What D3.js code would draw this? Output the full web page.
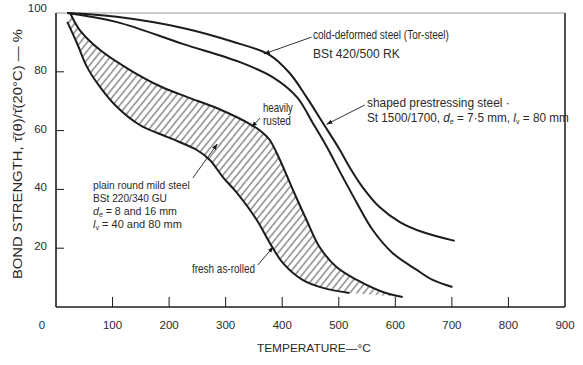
<!DOCTYPE html>
<html><head><meta charset="utf-8">
<script src="https://cdn.jsdelivr.net/npm/d3@7"></script>
<style>
body{margin:0;background:#fff;}
svg{display:block;}
text{font-family:"Liberation Sans",Arial,sans-serif;fill:#2a2a2a;}
</style></head>
<body>
<svg id="chart" width="583" height="365"></svg>
<script>
// ---- data (temperature °C, bond strength %) ----
const xTicks = [100,200,300,400,500,600,700,800,900];
const yTicks = [20,40,60,80,100];
const torSteel = [[20,100],[107,98.7],[224,94.9],[313,90.2],[378,85.7],[413,79.6],[443,71.4],[472,62.6],[502,53.4],[519,47.6],[542,40.8],[572,34.0],[608,28.9],[648,25.5],[705,22.5]];
const prestress = [[20,100],[108,96.9],[224,89.5],[325,83.3],[383,78.2],[426,71.4],[454,62.6],[479,54.4],[507,44.2],[532,35.4],[560,26.2],[595,18.4],[638,12.6],[666,9.2],[701,6.8]];
const rusted = [[25,100],[42,94.2],[78,87.4],[131,80.6],[185,75.0],[232,71.4],[285,67.6],[346,61.9],[366,59.2],[378,56.8],[396,50.0],[419,39.8],[443,29.6],[466,20.4],[496,13.6],[532,9.2],[578,5.1],[613,3.4]];
const fresh = [[20,97],[37,89.8],[55,81.6],[78,74.8],[108,68.0],[148,61.9],[201,57.5],[249,53.4],[272,50.0],[295,44.2],[320,38.8],[355,29.6],[378,21.8],[401,15.0],[436,9.2],[472,6.5],[519,4.8]];

const svg = d3.select("#chart");
const x = d3.scaleLinear().domain([0,900]).range([56,565]);
const y = d3.scaleLinear().domain([0,100]).range([307,13]);
const ink = "#1c1c1c";

// hatch pattern
const defs = svg.append("defs");
const pat = defs.append("pattern").attr("id","hatch").attr("width",5.4).attr("height",6)
  .attr("patternUnits","userSpaceOnUse").attr("patternTransform","rotate(39)");
pat.append("line").attr("x1",2.7).attr("x2",2.7).attr("y1",0).attr("y2",6)
  .attr("stroke","#333").attr("stroke-width",0.9);
defs.append("marker").attr("id","arr").attr("viewBox","0 0 10 10").attr("refX",9).attr("refY",5)
  .attr("markerWidth",7).attr("markerHeight",7).attr("orient","auto")
  .append("path").attr("d","M0,1.5 L10,5 L0,8.5 Z").attr("fill",ink);

// frame
svg.append("line").attr("x1",x(0)).attr("x2",x(900)).attr("y1",y(100)).attr("y2",y(100)).attr("stroke","#9a9a9a").attr("stroke-width",1.2);
svg.append("line").attr("x1",x(900)).attr("x2",x(900)).attr("y1",y(100)).attr("y2",y(0)).attr("stroke",ink).attr("stroke-width",1.5);
svg.append("line").attr("x1",x(0)).attr("x2",x(0)).attr("y1",y(100)).attr("y2",y(0)).attr("stroke",ink).attr("stroke-width",1.6);
svg.append("line").attr("x1",x(0)).attr("x2",x(900)).attr("y1",y(0)).attr("y2",y(0)).attr("stroke",ink).attr("stroke-width",1.6);

// ticks (inward)
svg.selectAll(".xt").data(xTicks.slice(0,-1)).join("line")
  .attr("x1",d=>x(d)).attr("x2",d=>x(d)).attr("y1",y(0)).attr("y2",y(0)-10)
  .attr("stroke",ink).attr("stroke-width",1);
svg.selectAll(".yt").data(yTicks.slice(0,-1)).join("line")
  .attr("x1",x(0)).attr("x2",x(0)+8).attr("y1",d=>y(d)).attr("y2",d=>y(d))
  .attr("stroke",ink).attr("stroke-width",1);

// tick labels
svg.selectAll(".xl").data(xTicks).join("text")
  .attr("x",d=>x(d)).attr("y",y(0)+22).attr("text-anchor","middle")
  .style("font-size","11.5px").text(d=>d);
svg.append("text").attr("x",x(0)-14).attr("y",y(0)+22).attr("text-anchor","middle")
  .style("font-size","11.5px").text("0");
svg.selectAll(".yl").data(yTicks).join("text")
  .attr("x",x(0)-9).attr("y",d=>y(d)+(d===100?-1:2)).attr("text-anchor","end")
  .style("font-size","11.5px").text(d=>d);

// axis titles
svg.append("text").attr("transform",`translate(${x(456)},352)`).attr("text-anchor","middle")
  .style("font-size","11.5px").attr("textLength",114).attr("lengthAdjust","spacingAndGlyphs")
  .text("TEMPERATURE—°C");
svg.append("text").attr("transform",`translate(22,${y(52)}) rotate(-90)`).attr("text-anchor","middle")
  .style("font-size","12px").attr("textLength",250).attr("lengthAdjust","spacingAndGlyphs")
  .text("BOND  STRENGTH,  τ\u0304(θ)/τ\u0304(20°C) — %");

// curves
const line = d3.line().x(d=>x(d[0])).y(d=>y(d[1])).curve(d3.curveCatmullRom.alpha(0.5));
const up = line(rusted), lo = line(fresh.slice().reverse());
svg.append("path").attr("d", up + "L" + lo.slice(1) + "Z").attr("fill","url(#hatch)").attr("stroke","none");
[rusted, fresh, torSteel, prestress].forEach(s=>{
  svg.append("path").attr("d",line(s)).attr("fill","none").attr("stroke",ink).attr("stroke-width",2);
});

// annotations (data coordinates)
const arrows = [
  [[452,91.8],[368,86.1]],
  [[546,68.7],[479,62.2]],
  [[361,64.3],[346,61.2]],
  [[242,43.9],[285,55.4]],
  [[357,14.3],[384,20.4]]
];
arrows.forEach(a=>{
  svg.append("line").attr("x1",x(a[0][0])).attr("y1",y(a[0][1])).attr("x2",x(a[1][0])).attr("y2",y(a[1][1]))
    .attr("stroke",ink).attr("stroke-width",0.9).attr("marker-end","url(#arr)");
});

function label(t, v, parts, width, fs){
  const tx = svg.append("text").style("font-size",(fs||12.5)+"px");
  parts.forEach(p=>{
    const ts = tx.append("tspan").text(p.t);
    if(p.i) ts.style("font-style","italic");
    if(p.sub) ts.attr("dy",2).style("font-size","7.5px");
    if(p.back) ts.attr("dy",-2);
  });
  const w = tx.node().getComputedTextLength();
  const s = w > 0 ? width / w : 1;
  tx.attr("transform",`translate(${x(t)},${y(v)}) scale(${s},1)`);
}
label(454.4, 91.2, [{t:"cold-deformed steel (Tor-steel)"}], 136);
label(454.4, 84.7, [{t:"BSt 420/500 RK"}], 87);
label(549.9, 68.0, [{t:"shaped prestressing steel ·"}], 143);
label(549.9, 62.9, [{t:"St 1500/1700, "},{t:"d",i:1},{t:"e",i:1,sub:1},{t:" = 7·5 mm, ",back:1},{t:"l",i:1},{t:"v",sub:1},{t:" = 80 mm",back:1}], 202);
label(366, 66.3, [{t:"heavily"}], 30);
label(366, 61.9, [{t:"rusted"}], 28);
label(65.4, 40.1, [{t:"plain round mild steel"}], 97, 11.5);
label(65.4, 35.7, [{t:"BSt 220/340 GU"}], 74, 11.5);
label(65.4, 31.3, [{t:"d",i:1},{t:"e",i:1,sub:1},{t:" =  8 and 16 mm",back:1}], 84, 11.5);
label(65.4, 26.9, [{t:"l",i:1},{t:"v",sub:1},{t:" = 40 and 80 mm",back:1}], 89, 11.5);
label(240.5, 11.6, [{t:"fresh as-rolled"}], 63);
</script>
</body></html>
